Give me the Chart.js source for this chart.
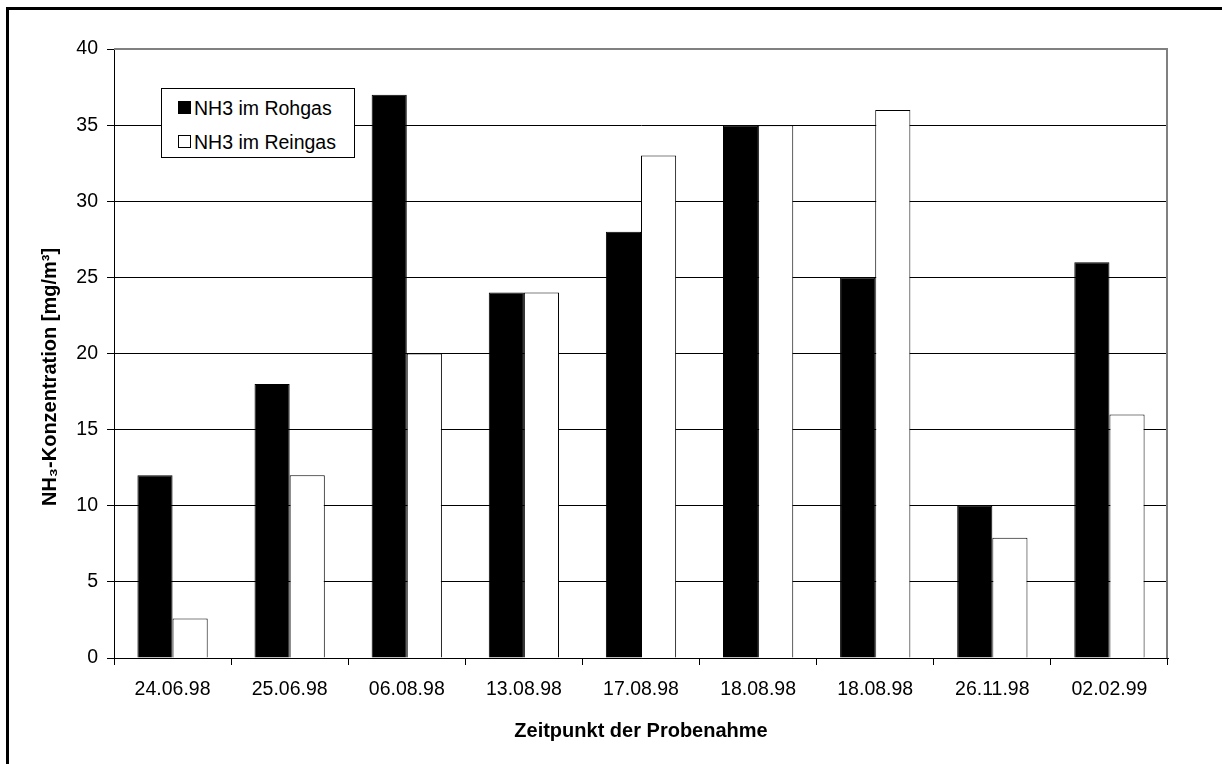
<!DOCTYPE html>
<html>
<head>
<meta charset="utf-8">
<script src="https://cdn.jsdelivr.net/npm/chart.js@4"></script>
<style>
  html, body { margin: 0; padding: 0; background: #fff; overflow: hidden; }
  #wrap { position: relative; width: 1222px; height: 764px; overflow: hidden; }
  #frame { position: absolute; left: 6px; top: 7px; width: 1400px; height: 900px; border-left: 3px solid #000; border-top: 3px solid #000; pointer-events: none; }
  #legend { position: absolute; left: 161px; top: 88px; width: 192px; height: 68px; border: 1px solid #000; background: #fff;
    font-family: 'Liberation Sans', Arial, sans-serif; font-size: 19.5px; color: #000; }
  .item { position: absolute; left: 16px; white-space: nowrap; }
  .box { display: inline-block; width: 11px; height: 11px; border: 1px solid #000; margin-right: 3px; vertical-align: 1px; }
</style>
</head>
<body>
<div id="wrap">
  <canvas id="chart" width="1222" height="764"></canvas>
  <div id="legend"></div>
  <div id="frame"></div>
</div>
<script>
const categories = ['24.06.98', '25.06.98', '06.08.98', '13.08.98', '17.08.98', '18.08.98', '18.08.98', '26.11.98', '02.02.99'];
const rohgas = [12, 18, 37, 24, 28, 35, 25, 10, 26];
const reingas = [2.6, 12, 20, 24, 33, 35, 36, 7.9, 16];
const seriesNames = ['NH3 im Rohgas', 'NH3 im Reingas'];
const seriesColors = ['#000000', '#ffffff'];
const yTitle = 'NH₃-Konzentration [mg/m³]';

const font = "'Liberation Sans', Arial, sans-serif";

// legend as plain html box inside the plot
document.getElementById('legend').innerHTML = seriesNames.map((n, i) =>
  `<div class="item" style="top:${8 + i * 34}px"><span class="box" style="background:${seriesColors[i]}"></span>${n}</div>`
).join('');

const plotFrame = {
  id: 'plotFrame',
  beforeDatasetsDraw(chart) {
    const a = chart.chartArea, ctx = chart.ctx;
    ctx.save();
    ctx.strokeStyle = '#808080';
    ctx.lineWidth = 2;
    ctx.beginPath();
    ctx.moveTo(a.left, a.top);
    ctx.lineTo(a.right - 1, a.top);
    ctx.lineTo(a.right - 1, a.bottom);
    ctx.stroke();
    ctx.restore();
  },
  // y title sits a bit below the axis middle in the original
  afterDraw(chart) {
    const ctx = chart.ctx;
    ctx.save();
    ctx.translate(50, 377);
    ctx.rotate(-Math.PI / 2);
    ctx.font = 'bold 20px ' + font;
    ctx.fillStyle = '#000';
    ctx.textAlign = 'center';
    ctx.textBaseline = 'middle';
    ctx.fillText(yTitle, 0, 0);
    ctx.restore();
  }
};

new Chart(document.getElementById('chart'), {
  type: 'bar',
  data: {
    labels: categories,
    datasets: [
      { label: seriesNames[0], data: rohgas, backgroundColor: seriesColors[0], borderColor: '#000', borderWidth: 1 },
      { label: seriesNames[1], data: reingas, backgroundColor: seriesColors[1], borderColor: '#000', borderWidth: 1 }
    ]
  },
  options: {
    responsive: false,
    animation: false,
    categoryPercentage: 0.6,
    barPercentage: 1,
    layout: { padding: { left: 34, top: 49, right: 54, bottom: 0 } },
    plugins: { legend: { display: false }, tooltip: { enabled: false } },
    scales: {
      x: {
        afterFit(s) { s.height = 106; },
        grid: { drawOnChartArea: false, drawTicks: true, tickLength: 7, color: '#000' },
        border: { color: '#000', width: 1 },
        ticks: { color: '#000', padding: 13, maxRotation: 0, autoSkip: false, font: { family: font, size: 19.5 } },
        title: { display: true, text: 'Zeitpunkt der Probenahme', color: '#000', padding: { top: 0, bottom: 21 },
          font: { family: font, size: 20, weight: 'bold' } }
      },
      y: {
        min: 0, max: 40,
        afterFit(s) { s.width = 80; },
        grid: { color: '#000', lineWidth: 1, tickLength: 7 },
        border: { color: '#000', width: 1 },
        ticks: { stepSize: 5, color: '#000', padding: 9, font: { family: font, size: 19.5 } }
      }
    }
  },
  plugins: [plotFrame]
});
</script>
</body>
</html>
